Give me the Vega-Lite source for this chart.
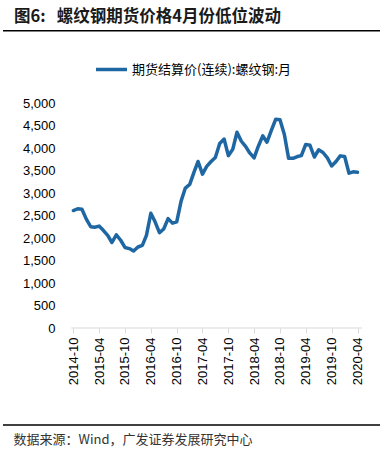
{
  "$schema": "https://vega.github.io/schema/vega-lite/v6.json",
  "width": 377,
  "height": 225,
  "autosize": {"type": "none"},
  "padding": {"left": 3, "top": 103, "right": 5, "bottom": 124},
  "background": "#ffffff",
  "config": {"view": {"stroke": null}, "font": "Liberation Sans"},
  "title": {
    "text": "图6:\u00a0\u00a0\u00a0螺纹钢期货价格4月份低位波动",
    "anchor": "start",
    "frame": "group",
    "dx": 11,
    "offset": 4,
    "font": "Noto Sans CJK SC",
    "fontSize": 16.5,
    "fontWeight": "bold",
    "color": "#1a1a1a"
  },
  "resolve": {"axis": {"x": "independent", "y": "independent"}},
  "layer": [
    {
      "data": {"values": [
        {"date": "2014-10-01", "price": 2610},
        {"date": "2014-11-01", "price": 2650},
        {"date": "2014-12-01", "price": 2640},
        {"date": "2015-01-01", "price": 2420},
        {"date": "2015-02-01", "price": 2250},
        {"date": "2015-03-01", "price": 2240},
        {"date": "2015-04-01", "price": 2265},
        {"date": "2015-05-01", "price": 2170},
        {"date": "2015-06-01", "price": 2060},
        {"date": "2015-07-01", "price": 1900},
        {"date": "2015-08-01", "price": 2070},
        {"date": "2015-09-01", "price": 1950},
        {"date": "2015-10-01", "price": 1790},
        {"date": "2015-11-01", "price": 1765},
        {"date": "2015-12-01", "price": 1710},
        {"date": "2016-01-01", "price": 1800},
        {"date": "2016-02-01", "price": 1835},
        {"date": "2016-03-01", "price": 2060},
        {"date": "2016-04-01", "price": 2550},
        {"date": "2016-05-01", "price": 2360},
        {"date": "2016-06-01", "price": 2120},
        {"date": "2016-07-01", "price": 2200},
        {"date": "2016-08-01", "price": 2430},
        {"date": "2016-09-01", "price": 2330},
        {"date": "2016-10-01", "price": 2360},
        {"date": "2016-11-01", "price": 2820},
        {"date": "2016-12-01", "price": 3110},
        {"date": "2017-01-01", "price": 3190},
        {"date": "2017-02-01", "price": 3470},
        {"date": "2017-03-01", "price": 3700},
        {"date": "2017-04-01", "price": 3420},
        {"date": "2017-05-01", "price": 3590},
        {"date": "2017-06-01", "price": 3700},
        {"date": "2017-07-01", "price": 3790},
        {"date": "2017-08-01", "price": 4100},
        {"date": "2017-09-01", "price": 4200},
        {"date": "2017-10-01", "price": 3830},
        {"date": "2017-11-01", "price": 3970},
        {"date": "2017-12-01", "price": 4350},
        {"date": "2018-01-01", "price": 4150},
        {"date": "2018-02-01", "price": 4030},
        {"date": "2018-03-01", "price": 3890},
        {"date": "2018-04-01", "price": 3780},
        {"date": "2018-05-01", "price": 4040},
        {"date": "2018-06-01", "price": 4270},
        {"date": "2018-07-01", "price": 4130},
        {"date": "2018-08-01", "price": 4390},
        {"date": "2018-09-01", "price": 4640},
        {"date": "2018-10-01", "price": 4630},
        {"date": "2018-11-01", "price": 4300},
        {"date": "2018-12-01", "price": 3770},
        {"date": "2019-01-01", "price": 3770},
        {"date": "2019-02-01", "price": 3810},
        {"date": "2019-03-01", "price": 3830},
        {"date": "2019-04-01", "price": 4080},
        {"date": "2019-05-01", "price": 4060},
        {"date": "2019-06-01", "price": 3800},
        {"date": "2019-07-01", "price": 3960},
        {"date": "2019-08-01", "price": 3900},
        {"date": "2019-09-01", "price": 3780},
        {"date": "2019-10-01", "price": 3600},
        {"date": "2019-11-01", "price": 3700},
        {"date": "2019-12-01", "price": 3825},
        {"date": "2020-01-01", "price": 3810},
        {"date": "2020-02-01", "price": 3440},
        {"date": "2020-03-01", "price": 3470},
        {"date": "2020-04-01", "price": 3460}
      ]},
      "mark": {"type": "line", "strokeWidth": 3.5, "strokeJoin": "round", "strokeCap": "round"},
      "encoding": {
        "x": {
          "field": "date",
          "type": "temporal",
          "scale": {
            "type": "utc",
            "nice": false,
            "domain": [
              {"year": 2013, "month": 5, "date": 22, "utc": true},
              {"year": 2020, "month": 9, "date": 7, "utc": true}
            ]
          },
          "axis": {
            "values": [
              {"year": 2014, "month": 10, "date": 1, "utc": true},
              {"year": 2015, "month": 4, "date": 1, "utc": true},
              {"year": 2015, "month": 10, "date": 1, "utc": true},
              {"year": 2016, "month": 4, "date": 1, "utc": true},
              {"year": 2016, "month": 10, "date": 1, "utc": true},
              {"year": 2017, "month": 4, "date": 1, "utc": true},
              {"year": 2017, "month": 10, "date": 1, "utc": true},
              {"year": 2018, "month": 4, "date": 1, "utc": true},
              {"year": 2018, "month": 10, "date": 1, "utc": true},
              {"year": 2019, "month": 4, "date": 1, "utc": true},
              {"year": 2019, "month": 10, "date": 1, "utc": true},
              {"year": 2020, "month": 4, "date": 1, "utc": true}
            ],
            "labelExpr": "utcFormat(datum.value, '%Y-%m')",
            "labelAngle": 270,
            "labelAlign": "right",
            "labelBaseline": "middle",
            "labelPadding": 4,
            "labelFont": "Liberation Sans",
            "labelFontSize": 13,
            "labelColor": "#000000",
            "labelOverlap": false,
            "domain": false,
            "ticks": true,
            "tickColor": "#d9d9d9",
            "tickSize": 5,
            "grid": false,
            "title": "数据来源：Wind，广发证券发展研究中心",
            "titleFont": "Noto Sans CJK SC",
            "titleFontSize": 13,
            "titleFontWeight": "normal",
            "titleColor": "#333333",
            "titleAlign": "left",
            "titleAnchor": "start",
            "titleAngle": 0,
            "titleBaseline": "middle",
            "titleX": 10,
            "titleY": 111
          }
        },
        "y": {
          "field": "price",
          "type": "quantitative",
          "scale": {"domain": [0, 5000], "nice": false, "zero": true},
          "axis": {
            "values": [0, 500, 1000, 1500, 2000, 2500, 3000, 3500, 4000, 4500, 5000],
            "labelExpr": "format(datum.value, ',')",
            "domain": false,
            "ticks": false,
            "grid": false,
            "offset": -68,
            "labelPadding": 16,
            "labelFont": "Liberation Sans",
            "labelFontSize": 13,
            "labelColor": "#000000",
            "title": null
          }
        },
        "color": {
          "datum": "期货结算价(连续):螺纹钢:月",
          "type": "nominal",
          "scale": {"range": ["#1f67a3"]},
          "legend": {
            "orient": "none",
            "legendX": 91,
            "legendY": -51,
            "title": null,
            "symbolType": "stroke",
            "symbolSize": 961,
            "symbolStrokeWidth": 3.5,
            "labelFont": "Noto Sans CJK SC",
            "labelFontSize": 13,
            "labelColor": "#000000",
            "labelOffset": 3,
            "padding": 0
          }
        }
      }
    },
    {
      "data": {"values": [{}]},
      "mark": {"type": "rule", "color": "#d9d9d9", "strokeWidth": 1},
      "encoding": {
        "x": {"datum": {"year": 2014, "month": 9, "date": 16, "utc": true}, "type": "temporal", "axis": null},
        "x2": {"datum": {"year": 2020, "month": 5, "date": 3, "utc": true}},
        "y": {"datum": 0, "type": "quantitative", "axis": null}
      }
    },
    {
      "data": {"values": [{}]},
      "mark": {"type": "rule", "color": "#000000", "strokeWidth": 1.5},
      "encoding": {
        "y": {"datum": 6607, "type": "quantitative", "axis": null}
      }
    },
    {
      "data": {"values": [{}]},
      "mark": {"type": "rule", "color": "#000000", "strokeWidth": 1.5},
      "encoding": {
        "y": {"datum": -2156, "type": "quantitative", "axis": null}
      }
    }
  ]
}
